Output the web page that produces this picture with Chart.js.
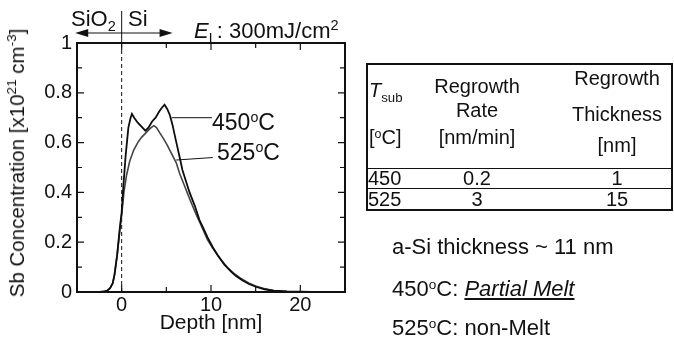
<!DOCTYPE html>
<html>
<head>
<meta charset="utf-8">
<script src="https://cdn.jsdelivr.net/npm/chart.js@4.4.1/dist/chart.umd.min.js"></script>
<style>
    html, body { margin: 0; padding: 0; background: #fff; }
    body { width: 674px; height: 339px; position: relative; overflow: hidden;
           font-family: "Liberation Sans", Arial, sans-serif; color: #111; }
    #chart { position: absolute; left: 0; top: 0; }
    .lbl { position: absolute; white-space: nowrap; }
    .lbl sup, .lbl sub { font-size: 0.66em; line-height: 0; }
    .lbl sup.deg { font-size: 0.62em; vertical-align: 0.55em; }
    #table { position: absolute; left: 366px; top: 63px; width: 303px; height: 144px;
             border: 2px solid #111; }
    .hline { position: absolute; left: 0; right: 0; height: 0; border-top: 1.5px solid #111; }
</style>
</head>
<body>
<canvas id="chart" width="674" height="339"></canvas>
<div id="table"></div>
<script>
// --- Data ---

const depth450 = [-3.2, -2.5, -2.0, -1.6, -1.3, -1.0, -0.8, -0.5, -0.2, 0.0, 0.2, 0.45, 0.75, 1.0, 1.15, 1.4, 1.8, 2.2, 2.65,
    3.0, 3.4, 3.8, 4.2, 4.5, 4.8, 5.1, 5.4, 5.7, 6.0, 6.25, 6.5, 6.8, 7.2, 7.6, 8.2, 8.7, 9.1, 9.6, 10.2, 10.8, 11.5,
    12.3, 12.8, 13.5, 14.2, 15.0, 16.0, 17.0, 18.5, 20.0, 21.2];
const conc450 = [0, 0, 0.002, 0.006, 0.015, 0.035, 0.07, 0.15, 0.26, 0.32, 0.43, 0.55, 0.66, 0.70, 0.715, 0.70, 0.68, 0.665, 0.648,
    0.66, 0.685, 0.70, 0.725, 0.74, 0.752, 0.735, 0.71, 0.67, 0.62, 0.58, 0.54, 0.49, 0.445, 0.40, 0.345, 0.29, 0.26, 0.22, 0.18, 0.145, 0.11,
    0.08, 0.064, 0.047, 0.033, 0.021, 0.011, 0.005, 0.002, 0.001, 0];

const depth525 = [-3.2, -2.5, -2.0, -1.6, -1.3, -1.0, -0.8, -0.5, -0.2, 0.0, 0.25, 0.55, 0.9, 1.35, 1.8, 2.2, 2.6, 3.0, 3.3, 3.6,
    3.9, 4.25, 4.7, 5.1, 5.6, 6.1, 6.5, 7.0, 7.6, 8.3, 8.8, 9.6, 10.2, 11.0, 11.8, 12.5, 13.3, 14.2, 15.0, 16.0, 17.0, 18.5, 20.0, 21.0];
const conc525 = [0, 0, 0.002, 0.006, 0.015, 0.035, 0.07, 0.15, 0.25, 0.31, 0.40, 0.47, 0.525, 0.57, 0.60, 0.62, 0.635, 0.65, 0.66, 0.668,
    0.66, 0.64, 0.615, 0.59, 0.555, 0.52, 0.475, 0.43, 0.375, 0.315, 0.275, 0.21, 0.175, 0.135, 0.10, 0.077, 0.056, 0.036, 0.024, 0.013,
    0.006, 0.002, 0.001, 0];

const seriesLabels = ["450", "525"];
const xTickLabels = [0, 10, 20];
const yTickLabels = [0, 0.2, 0.4, 0.6, 0.8, 1];

// table
const tableTemps = ["450", "525"];
const tableRates = ["0.2", "3"];
const tableThickness = ["1", "15"];

const FONT = '"Liberation Sans", Arial, sans-serif';
const INK = "#111";

function toPoints(xs, ys) {
    return xs.map((x, i) => ({ x: x, y: ys[i] }));
}

// --- Frame, inward ticks and annotations drawn on the chart's scales ---

const framePlugin = {
    id: "frame",
    beforeDatasetsDraw(chart) {
        const { ctx, chartArea, scales } = chart;
        const x0 = scales.x.getPixelForValue(0);
        ctx.save();
        ctx.strokeStyle = INK;
        ctx.lineWidth = 1;
        ctx.setLineDash([4, 3]);
        ctx.beginPath();
        ctx.moveTo(x0, chartArea.top);
        ctx.lineTo(x0, chartArea.bottom);
        ctx.stroke();
        ctx.restore();
    },
    afterDraw(chart) {
        const { ctx, chartArea, scales } = chart;
        const { left, right, top, bottom } = chartArea;
        ctx.save();
        ctx.strokeStyle = INK;
        ctx.lineWidth = 2;
        ctx.strokeRect(left, top, right - left, bottom - top);

        ctx.lineWidth = 1.2;
        ctx.beginPath();
        scales.x.ticks.forEach(t => {
            const px = scales.x.getPixelForValue(t.value);
            const len = t.value % 10 === 0 ? 7 : 5;
            ctx.moveTo(px, bottom); ctx.lineTo(px, bottom - len);
            ctx.moveTo(px, top); ctx.lineTo(px, top + len);
        });
        scales.y.ticks.forEach(t => {
            const py = scales.y.getPixelForValue(t.value);
            const len = Math.round(t.value * 10) % 2 === 0 ? 7 : 5;
            ctx.moveTo(left, py); ctx.lineTo(left + len, py);
            ctx.moveTo(right, py); ctx.lineTo(right - len, py);
        });
        ctx.stroke();

        // SiO2 | Si boundary marker and arrows above the plot
        const x0 = scales.x.getPixelForValue(0);
        ctx.lineWidth = 1;
        ctx.beginPath();
        ctx.moveTo(x0, 11); ctx.lineTo(x0, top);
        const ay = 33;
        const aL = scales.x.getPixelForValue(-5.2);
        const aR = scales.x.getPixelForValue(5.7);
        ctx.moveTo(aL + 10, ay); ctx.lineTo(aR - 10, ay);
        ctx.stroke();
        ctx.fillStyle = INK;
        ctx.beginPath();
        ctx.moveTo(aL, ay); ctx.lineTo(aL + 13, ay - 4); ctx.lineTo(aL + 13, ay + 4); ctx.closePath();
        ctx.moveTo(aR, ay); ctx.lineTo(aR - 13, ay - 4); ctx.lineTo(aR - 13, ay + 4); ctx.closePath();
        ctx.fill();

        // leader lines from the curves to their labels
        ctx.lineWidth = 1;
        ctx.beginPath();
        ctx.moveTo(scales.x.getPixelForValue(5.6), scales.y.getPixelForValue(0.70));
        ctx.lineTo(scales.x.getPixelForValue(10.1), scales.y.getPixelForValue(0.70));
        ctx.moveTo(scales.x.getPixelForValue(6.1), scales.y.getPixelForValue(0.53));
        ctx.lineTo(scales.x.getPixelForValue(10.2), scales.y.getPixelForValue(0.54));
        ctx.stroke();
        ctx.restore();
    }
};

const ctx = document.getElementById("chart").getContext("2d");

new Chart(ctx, {
    type: "scatter",
    data: {
        datasets: [
            {
                label: seriesLabels[0] + "°C",
                data: toPoints(depth450, conc450),
                showLine: true,
                borderColor: "#0d0d0d",
                borderWidth: 1.8,
                pointRadius: 0,
                tension: 0
            },
            {
                label: seriesLabels[1] + "°C",
                data: toPoints(depth525, conc525),
                showLine: true,
                borderColor: "#454545",
                borderWidth: 1.6,
                pointRadius: 0,
                tension: 0
            }
        ]
    },
    options: {
        responsive: false,
        animation: false,
        layout: { padding: { left: 0, top: 43, right: 329, bottom: 0 } },
        plugins: {
            legend: { display: false },
            tooltip: { enabled: false }
        },
        scales: {
            x: {
                type: "linear",
                min: -5,
                max: 25,
                afterFit(scale) { scale.height = 47; },
                grid: { display: false, drawTicks: false },
                border: { display: false },
                ticks: {
                    stepSize: 5,
                    autoSkip: false,
                    maxRotation: 0,
                    padding: 1,
                    color: INK,
                    font: { family: FONT, size: 20 },
                    callback: v => xTickLabels.includes(v) ? String(v) : ""
                },
                title: {
                    display: true,
                    text: "Depth [nm]",
                    color: INK,
                    font: { family: FONT, size: 21 },
                    padding: { top: 0, bottom: 3 }
                }
            },
            y: {
                min: 0,
                max: 1,
                afterFit(scale) { scale.width = 77; },
                grid: { display: false, drawTicks: false },
                border: { display: false },
                ticks: {
                    stepSize: 0.1,
                    autoSkip: false,
                    padding: 5,
                    color: INK,
                    font: { family: FONT, size: 20 },
                    callback: v => {
                        const hit = yTickLabels.find(t => Math.abs(t - v) < 1e-6);
                        return hit === undefined ? "" : String(hit);
                    }
                }
            }
        }
    },
    plugins: [framePlugin]
});

// --- Text annotations ---

function addLabel(html, x, y, size, align, extra) {
    const el = document.createElement("div");
    el.className = "lbl";
    el.innerHTML = html;
    el.style.fontSize = size + "px";
    el.style.lineHeight = size + "px";
    el.style.left = x + "px";
    el.style.top = (y - size / 2) + "px";
    if (align === "center") el.style.transform = "translateX(-50%)";
    (extra && extra.parent ? extra.parent : document.body).appendChild(el);
    return el;
}

addLabel("SiO<sub>2</sub>", 71, 19, 22);
addLabel("Si", 128, 19, 22);
addLabel("<i>E</i><sub>L</sub>: 300mJ/cm<sup>2</sup>", 194, 31, 22);
addLabel(seriesLabels[0] + "<sup class='deg'>o</sup>C", 212, 122, 23);
addLabel(seriesLabels[1] + "<sup class='deg'>o</sup>C", 217, 152, 23);

// rotated y axis title
const yTitle = document.createElement("div");
yTitle.className = "lbl";
yTitle.innerHTML = "Sb Concentration [x10<sup>21</sup> cm<sup>-3</sup>]";
Object.assign(yTitle.style, {
    fontSize: "20.5px", lineHeight: "20px", left: "17px", top: "163px",
    transform: "translate(-50%, -50%) rotate(-90deg)"
});
document.body.appendChild(yTitle);

// table on the right
const table = document.getElementById("table");
const tx = v => v - 368;   // page x -> table x
const ty = v => v - 65;    // page y -> table y
function tLabel(html, x, y, align) {
    addLabel(html, tx(x), ty(y), 20, align, { parent: table });
}
tLabel("<i>T</i><sub>sub</sub>", 369, 90);
tLabel("[<sup style='font-size:0.62em;vertical-align:0.5em'>o</sup>C]", 369, 137);
tLabel("Regrowth", 477, 86, "center");
tLabel("Rate", 477, 110, "center");
tLabel("[nm/min]", 477, 137, "center");
tLabel("Regrowth", 617, 78, "center");
tLabel("Thickness", 617, 114, "center");
tLabel("[nm]", 617, 145, "center");

[168, 188].forEach(y => {
    const line = document.createElement("div");
    line.className = "hline";
    line.style.top = ty(y) + "px";
    table.appendChild(line);
});

const rowCenters = [178, 199];
tableTemps.forEach((t, i) => {
    tLabel(t, 368, rowCenters[i]);
    tLabel(tableRates[i], 477, rowCenters[i], "center");
    tLabel(tableThickness[i], 617, rowCenters[i], "center");
});

// notes
addLabel("a-Si thickness ~ 11 nm", 392, 247, 22);
addLabel("450<sup class='deg'>o</sup>C: <i><u>Partial Melt</u></i>", 392, 289, 22);
addLabel("525<sup class='deg'>o</sup>C: non-Melt", 392, 328, 22);
</script>
</body>
</html>
